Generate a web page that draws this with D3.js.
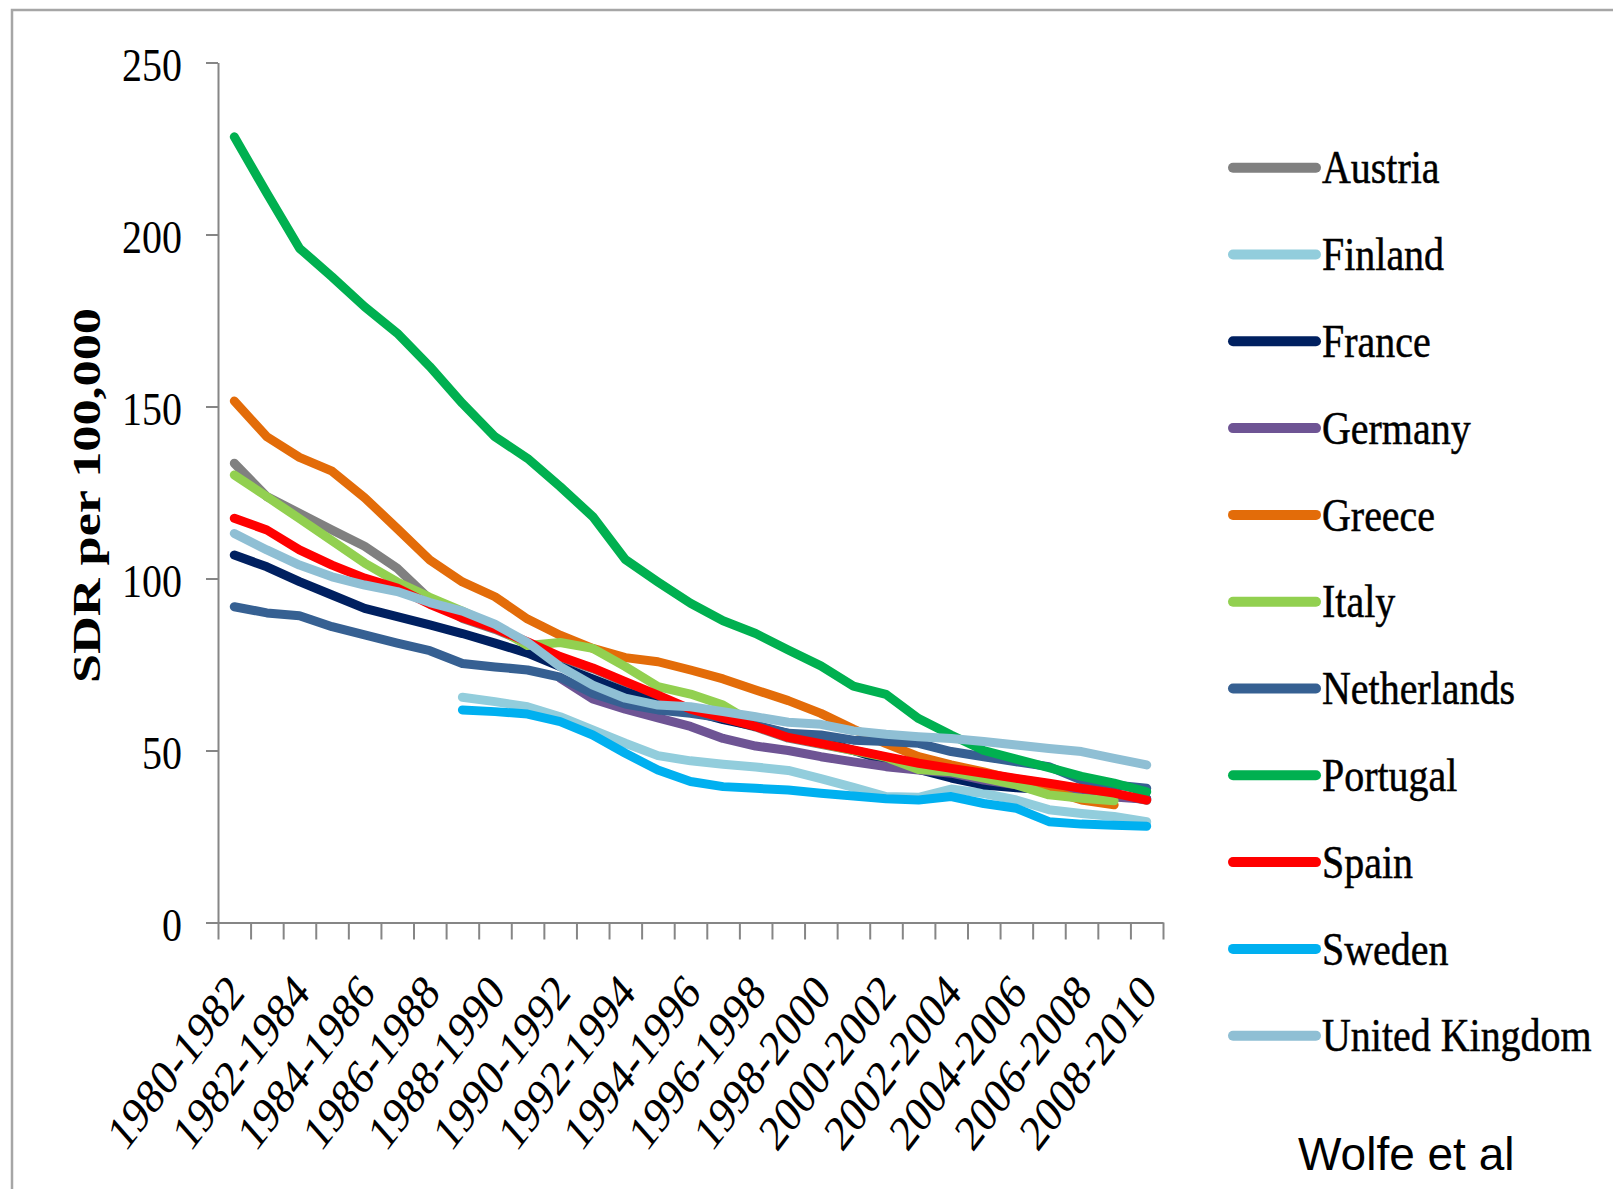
<!DOCTYPE html>
<html>
<head>
<meta charset="utf-8">
<script src="https://cdn.jsdelivr.net/npm/d3@7"></script>
<style>
  body { margin: 0; background: #fff; }
  text { font-family: "Liberation Serif", "DejaVu Serif", serif; }
</style>
</head>
<body>
<script>
const w = 1613;
const h = 1189;

// 3-year periods, 1980-1982 .. 2008-2010
const categories = d3.range(1980, 2009).map((y) => y + '-' + (y + 2));
const yTicks = [0, 50, 100, 150, 200, 250];
const countries = ['Austria', 'Finland', 'France', 'Germany', 'Greece', 'Italy',
                   'Netherlands', 'Portugal', 'Spain', 'Sweden', 'United Kingdom'];
const colors = ['#808080', '#92CDDC', '#002060', '#6E5494', '#E36C09', '#92D050',
                '#366092', '#00B050', '#FF0000', '#00B0F0', '#8FBFD4'];

const austria = [133.5, 123.8, 119, 114.1, 109.4, 103, 94, 88.4, 85.2, 81.3, 77, 73.8, 69.8, 65.8,
                 61.8, 59.3, 56.8, 53.6, 51.8, 50, 48, 46.1, 44.6, 43.2, 41.7, 40.3, 38.8, 37.4, 35.5];
const finland = [null, null, null, null, null, null, null, 65.5, 64.2, 62.7, 59.8, 56, 52.1, 48.5,
                 47, 46, 45.2, 44.2, 41.8, 39.3, 36.6, 36.4, 38.8, 37.5, 35.6, 32.8, 31.7, 30.8, 29.3];
const france = [106.8, 103.4, 99.1, 95.2, 91.3, 88.9, 86.5, 84, 81.2, 78.3, 74.4, 70.8, 67.1, 64,
                61.5, 59, 57, 55, 53, 50, 47, 44.5, 42, 40, 39.2, 38.6, 37.5, 36.8, 36];
const germany = [null, null, null, null, null, null, null, null, null, null, 71, 65, 62, 59.5,
                 57, 53.5, 51.3, 50, 48.2, 46.7, 45.3, 44.3, 43.4, 41.4, 40, 38.5, 37.5, 36.5, 35.8];
const greece = [151.6, 141.2, 135.2, 131.2, 123.5, 114.5, 105.4, 99, 94.7, 88.2, 83.5, 79.7, 77, 75.8,
                73.4, 70.8, 67.6, 64.5, 60.8, 56.2, 52, 48.2, 45.8, 43.8, 41.4, 38.5, 35.6, 34.2, null];
const italy = [130.1, 123.8, 117.4, 111, 104.5, 99, 94.5, 90.5, 86, 80.5, 81.4, 79.7, 74.4, 68.6,
               66.4, 63.2, 57.5, 54, 52, 50, 48, 44.5, 43.8, 42, 40, 37.1, 36.1, 35.4, null];
const netherlands = [91.8, 90, 89.2, 86, 83.6, 81.2, 79, 75.3, 74.3, 73.4, 71.3, 66.6, 63.5, 61.8,
                     60.8, 59.4, 57.4, 55, 54.5, 53, 52.6, 52.1, 49.7, 48.2, 46.7, 45.3, 41.4, 40, 39];
const portugal = [228.4, 212, 196, 187.7, 179, 171.3, 161.6, 150.9, 141.2, 134.9, 126.7, 118, 105.5, 99,
                  92.8, 87.7, 84, 79.2, 74.6, 68.7, 66.3, 59.3, 54.5, 50, 47.5, 45, 42.5, 40.5, 38];
const spain = [117.5, 114.1, 108.3, 103.9, 100.1, 97.2, 92.5, 88.6, 85.5, 81.6, 77.3, 74, 70, 66.1,
               62, 59.5, 57, 53.8, 52, 50.2, 48.2, 46.3, 44.8, 43.4, 41.9, 40.5, 39, 37.6, 35.6];
const sweden = [null, null, null, null, null, null, null, 61.8, 61.3, 60.6, 58.4, 54.5, 49.2, 44.3,
                41, 39.5, 39, 38.5, 37.6, 36.8, 36, 35.6, 36.6, 34.6, 33.2, 29.3, 28.6, 28.3, 28];
const uk = [113.1, 108.3, 103.9, 100.5, 98.1, 96.2, 93, 90.5, 86.7, 81.4, 74.4, 69, 65.2, 63.2,
            62.7, 61.3, 59.8, 58.2, 57.6, 55.7, 54.7, 54, 53.5, 52.6, 51.6, 50.6, 49.7, 47.7, 45.8];

const series = [austria, finland, france, germany, greece, italy,
                netherlands, portugal, spain, sweden, uk];

const plotLeft = 218;
const plotRight = 1163;
const plotTop = 62.5;
const plotBottom = 922.5;
const squash = 0.85; // the picture is narrow: text is drawn compressed sideways
const axisColor = '#868686';

const svg = d3.select('body')
                .append('svg')
                .attr('width', w)
                .attr('height', h);

svg.append('rect')
    .attr('x', 12)
    .attr('y', 10)
    .attr('width', w + 50)
    .attr('height', h + 50)
    .attr('fill', 'none')
    .attr('stroke', '#a6a6a6')
    .attr('stroke-width', 2.5);

const xScale = d3.scaleBand()
                .domain(categories)
                .range([plotLeft, plotRight]);
// category boundaries, for the tick marks between categories
const xEdges = d3.scaleLinear()
                .domain([0, categories.length])
                .range([plotLeft, plotRight]);
const yScale = d3.scaleLinear()
                .domain([0, 250])
                .range([plotBottom, plotTop]);

const cx = (c) => xScale(c) + xScale.bandwidth() / 2;

// axes
const xAxis = svg.append('g')
                .attr('transform', 'translate(0, ' + plotBottom + ')')
                .call(d3.axisBottom(xEdges)
                        .tickValues(d3.range(categories.length + 1))
                        .tickSize(17)
                        .tickSizeOuter(0)
                        .tickFormat(''));
const yAxis = svg.append('g')
                .attr('transform', 'translate(' + plotLeft + ', 0)')
                .call(d3.axisLeft(yScale)
                        .tickValues(yTicks)
                        .tickSize(12)
                        .tickSizeOuter(0)
                        .tickFormat(''));
[xAxis, yAxis].forEach((g) => {
    g.selectAll('path, line')
        .attr('stroke', axisColor)
        .attr('stroke-width', 2);
});

svg.selectAll('.y-label')
    .data(yTicks)
    .enter()
    .append('text')
    .attr('class', 'y-label')
    .attr('transform', (d) => 'translate(182, ' + (yScale(d) + 18) + ') scale(' + squash + ',1)')
    .attr('text-anchor', 'end')
    .attr('font-size', 47)
    .text((d) => d);

svg.selectAll('.x-label')
    .data(categories.filter((c, i) => i % 2 === 0))
    .enter()
    .append('text')
    .attr('class', 'x-label')
    .attr('transform', (d) => 'translate(' + (cx(d) + 12) + ', ' + (plotBottom + 72) + ') scale(0.82,1) rotate(-47)')
    .attr('text-anchor', 'end')
    .attr('font-size', 50)
    .text((d) => d);

svg.append('text')
    .attr('transform', 'translate(100, 495.5) scale(' + squash + ',1) rotate(-90)')
    .attr('text-anchor', 'middle')
    .attr('font-size', 48)
    .attr('font-weight', 'bold')
    .attr('textLength', 375)
    .attr('lengthAdjust', 'spacingAndGlyphs')
    .text('SDR per 100,000');

// lines
const line = d3.line()
                .defined((d) => d[1] !== null)
                .x((d) => cx(d[0]))
                .y((d) => yScale(d[1]));

svg.selectAll('.country')
    .data(series)
    .enter()
    .append('path')
    .attr('class', 'country')
    .attr('d', (s) => line(s.map((v, i) => [categories[i], v])))
    .attr('fill', 'none')
    .attr('stroke', (s, i) => colors[i])
    .attr('stroke-width', 9)
    .attr('stroke-linejoin', 'round')
    .attr('stroke-linecap', 'round');

// legend
const legend = svg.selectAll('.legend')
                .data(countries)
                .enter()
                .append('g')
                .attr('class', 'legend')
                .attr('transform', (d, i) => 'translate(1233, ' + (167.7 + i * 86.8) + ')');
legend.append('line')
    .attr('x1', 0)
    .attr('x2', 83)
    .attr('stroke', (d, i) => colors[i])
    .attr('stroke-width', 10)
    .attr('stroke-linecap', 'round');
legend.append('text')
    .attr('transform', 'translate(89, 15.6) scale(' + squash + ',1)')
    .attr('font-size', 47)
    .attr('stroke', '#000')
    .attr('stroke-width', 0.5)
    .text((d) => d);

svg.append('text')
    .attr('x', 1298)
    .attr('y', 1170)
    .style('font-family', '"Liberation Sans", Arial, sans-serif')
    .attr('font-size', 46)
    .text('Wolfe et al');
</script>
</body>
</html>
